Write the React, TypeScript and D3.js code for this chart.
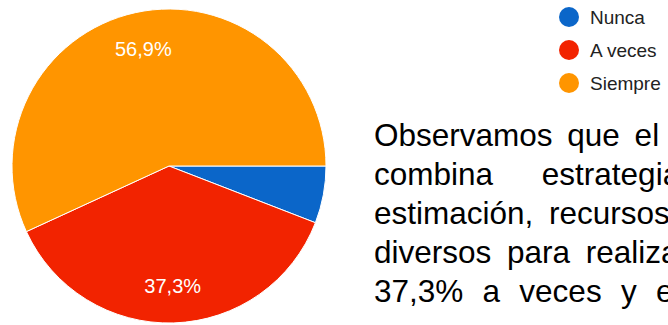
import React from "react";
import * as d3 from "d3";

// ---- data ----
const categories = ["Nunca", "A veces", "Siempre"];
const counts = [3, 19, 29];
const sliceColors = ["#0b66c9", "#f22300", "#ff9500"];

// paragraph text (justified, cut off by the right edge)
const paragraphLines = [
  "Observamos que el",
  "combina estrategias",
  "estimación, recursos",
  "diversos para realizar",
  "37,3% a veces y el",
];
const paragraphWordSpacing = [6, 40, 7, 7, 10.5];

const W = 668;
const H = 325;

export default function App() {
  const cx = 169;
  const cy = 166;
  const R = 157;

  const total = d3.sum(counts);
  const pie = d3
    .pie<number>()
    .sort(null)
    .value((d) => d)
    .startAngle(Math.PI / 2)
    .endAngle(Math.PI / 2 + 2 * Math.PI);
  const arcs = pie(counts);
  const arcGen = d3.arc<d3.PieArcDatum<number>>().innerRadius(0).outerRadius(R);
  const labelArc = d3
    .arc<d3.PieArcDatum<number>>()
    .innerRadius(120)
    .outerRadius(120);
  const fmt = (v: number) =>
    (Math.round((v / total) * 1000) / 10).toFixed(1).replace(".", ",") + "%";

  const legendY = d3.scalePoint<string>().domain(categories).range([17, 83]);

  const lineY = d3
    .scaleLinear()
    .domain([0, paragraphLines.length - 1])
    .range([146, 302]);

  return (
    <div style={{ position: "fixed", left: 0, top: 0, width: W, height: H, background: "#fff" }}>
      <svg width={W} height={H} style={{ display: "block" }}>
        <rect width={W} height={H} fill="#ffffff" />
        <g transform={`translate(${cx},${cy})`}>
          {arcs.map((a, i) => (
            <path key={i} d={arcGen(a) || ""} fill={sliceColors[i]} stroke="#ffffff" strokeWidth={1} />
          ))}
          {arcs.map((a, i) => {
            if (a.data / total < 0.1) return null;
            const [x, y] = labelArc.centroid(a);
            return (
              <text
                key={"l" + i}
                x={x}
                y={y}
                fill="#ffffff"
                fontFamily="Arial, 'Liberation Sans', sans-serif"
                fontSize={20}
                textAnchor="middle"
                dominantBaseline="central"
              >
                {fmt(a.data)}
              </text>
            );
          })}
        </g>
        <g>
          {categories.map((c, i) => (
            <g key={c} transform={`translate(569,${legendY(c)})`}>
              <circle r={10} fill={sliceColors[i]} />
              <text
                x={21}
                y={0}
                fill="#222222"
                fontFamily="Arial, 'Liberation Sans', sans-serif"
                fontSize={19}
                dominantBaseline="central"
              >
                {c}
              </text>
            </g>
          ))}
        </g>
        <g>
          {paragraphLines.map((line, i) => (
            <text
              key={i}
              x={374}
              y={lineY(i)}
              fill="#000000"
              fontFamily="Arial, 'Liberation Sans', sans-serif"
              fontSize={31.5}
              wordSpacing={paragraphWordSpacing[i]}
              style={{ whiteSpace: "pre" }}
            >
              {line}
            </text>
          ))}
        </g>
      </svg>
    </div>
  );
}
